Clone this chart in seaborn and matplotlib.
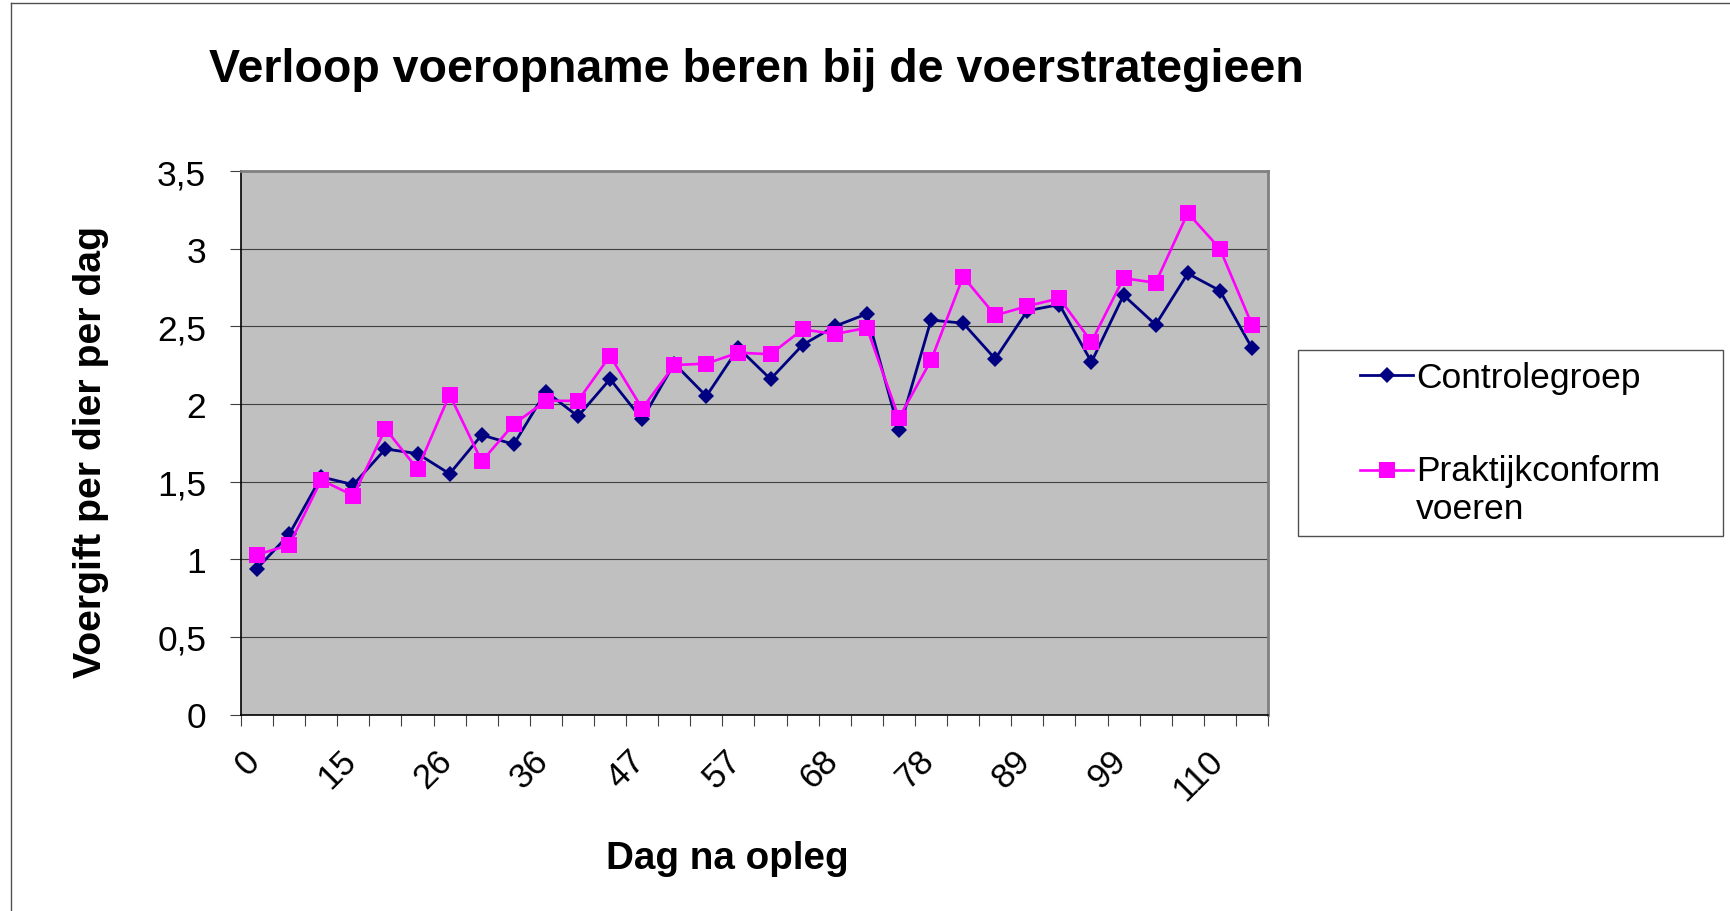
import numpy as np
import pandas as pd
import matplotlib
matplotlib.use("Agg")
import matplotlib.pyplot as plt
import matplotlib.transforms as mtransforms
from matplotlib.patches import Rectangle
from matplotlib.lines import Line2D
import seaborn as sns

# data (32 weighing moments)
controlegroep = [0.94, 1.16, 1.53, 1.48, 1.71, 1.68, 1.55, 1.80, 1.74, 2.08,
                 1.92, 2.16, 1.90, 2.26, 2.05, 2.36, 2.16, 2.38, 2.50, 2.58,
                 1.83, 2.54, 2.52, 2.29, 2.60, 2.64, 2.27, 2.70, 2.51, 2.84,
                 2.73, 2.36]
praktijkconform = [1.03, 1.09, 1.51, 1.41, 1.84, 1.58, 2.06, 1.63, 1.87, 2.02,
                   2.02, 2.31, 1.97, 2.25, 2.26, 2.33, 2.32, 2.48, 2.45, 2.49,
                   1.91, 2.28, 2.82, 2.57, 2.63, 2.68, 2.40, 2.81, 2.78, 3.23,
                   3.00, 2.51]
# day labels shown under every third category
tick_labels = ["0", "15", "26", "36", "47", "57", "68", "78", "89", "99", "110"]
y_ticks = [0, 0.5, 1, 1.5, 2, 2.5, 3, 3.5]

W, H = 1731, 912
fig = plt.figure(figsize=(W / 100, H / 100), dpi=100)
plt.rcParams['font.family'] = ['Liberation Sans', 'DejaVu Sans']

ax = fig.add_axes([241 / W, 1 - 715.5 / H, 1027 / W, 543.5 / H])
ax.set_facecolor("#C0C0C0")

pos = np.arange(len(controlegroep))
df = pd.DataFrame({"pos": pos, "Controlegroep": controlegroep,
                   "Praktijkconform\nvoeren": praktijkconform})

#two series, drawn with seaborn
sns.lineplot(data=df, x="pos", y="Controlegroep", ax=ax, color="#000080",
             marker="D", markersize=8.3, markeredgewidth=0, linewidth=2.0,
             label="Controlegroep", zorder=3)
sns.lineplot(data=df, x="pos", y="Praktijkconform\nvoeren", ax=ax, color="#FF00FF",
             marker="s", markersize=11.5, markeredgewidth=0, linewidth=1.9,
             label="Praktijkconform\nvoeren", zorder=4)

ax.set_xlim(-0.5, len(pos) - 0.5)
ax.set_ylim(0, 3.5)
ax.set_yticks(y_ticks)
ax.set_yticklabels([("%g" % v).replace(".", ",") for v in y_ticks])
ax.yaxis.grid(True, color="#404040", linewidth=0.8)
ax.set_axisbelow(True)

# ticks between categories, labels on every third category
ax.set_xticks(np.arange(-0.5, len(pos), 1.0))
ax.set_xticklabels([])
ax.set_xticks(pos[::3], minor=True)
ax.set_xticklabels(tick_labels, minor=True, rotation=45, ha="right", va="top",
                   rotation_mode="anchor", fontsize=25)
ax.tick_params(axis="x", which="major", length=8, width=0.8, color="#404040", direction="out")
ax.tick_params(axis="x", which="minor", length=0, pad=21)
ax.tick_params(axis="y", length=8, width=0.8, color="#404040", labelsize=25.5, pad=17)
offset = mtransforms.ScaledTranslation(-14 / 100, 0, fig.dpi_scale_trans)
for lab in ax.get_xticklabels(minor=True):
    lab.set_transform(lab.get_transform() + offset)

ax.set_xlabel("")
ax.set_ylabel("")
for side in ["top", "right"]:
    ax.spines[side].set_color("#808080")
    ax.spines[side].set_linewidth(2)
for side in ["left", "bottom"]:
    ax.spines[side].set_color("black")
    ax.spines[side].set_linewidth(1.2)

fig.text(756 / W, 1 - 82 / H, "Verloop voeropname beren bij de voerstrategieen",
         ha="center", va="baseline", fontsize=33.5, fontweight="bold")
fig.text(91 / W, 1 - 452 / H, "Voergift per dier per dag", rotation=90,
         ha="center", va="center", fontsize=28.3, fontweight="bold")
fig.text(727.5 / W, 1 - 869 / H, "Dag na opleg", ha="center", va="baseline",
         fontsize=27.8, fontweight="bold")

leg = ax.legend(loc="upper left", bbox_to_anchor=(1360 / W, 1 - 362.5 / H),
                bbox_transform=fig.transFigure, frameon=False, fontsize=25.5,
                handlelength=1.5, handletextpad=0.08, labelspacing=1.68,
                borderpad=0, borderaxespad=0)
# Excel puts the marker next to the first line of a two-line label
h2 = leg.legend_handles[1]
h2.set_transform(h2.get_transform() +
                 mtransforms.ScaledTranslation(0, 20 / 100, fig.dpi_scale_trans))

fig.add_artist(Rectangle((1298 / W, 1 - 537 / H), 425 / W, 186 / H,
                         transform=fig.transFigure, fill=False,
                         edgecolor="#505050", linewidth=1))

# outer chart border (top and left visible)
fig.add_artist(Line2D([11 / W, 1], [1 - 4 / H, 1 - 4 / H], transform=fig.transFigure,
                      color="#505050", linewidth=1))
fig.add_artist(Line2D([11 / W, 11 / W], [0, 1 - 4 / H], transform=fig.transFigure,
                      color="#505050", linewidth=1))

fig.savefig("out.png", dpi=100)
